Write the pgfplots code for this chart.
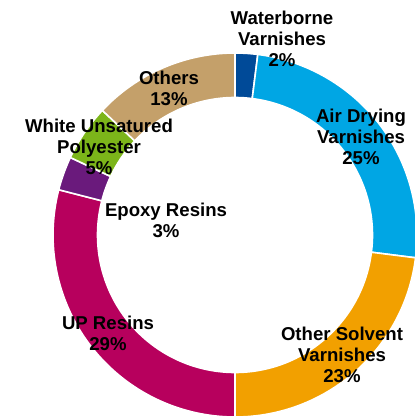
\documentclass[border=0pt]{standalone}
\usepackage{pgfplots}
\pgfplotsset{compat=1.18}
\usepackage{pgfplotstable}
\usepackage{fontspec}
\setmainfont{Liberation Sans}
\definecolor{cWater}{RGB}{0,74,152}
\definecolor{cAir}{RGB}{0,166,228}
\definecolor{cOther}{RGB}{242,160,0}
\definecolor{cUP}{RGB}{183,0,93}
\definecolor{cEpoxy}{RGB}{106,26,124}
\definecolor{cWhite}{RGB}{124,181,26}
\definecolor{cOthers}{RGB}{196,160,106}
\newcommand\lbl{\fontsize{9.3bp}{10.5bp}\selectfont\bfseries}
\pgfplotstableread{
value color
2 cWater
25 cAir
23 cOther
29 cUP
3 cEpoxy
5 cWhite
13 cOthers
}\donutdata
\begin{document}
\begin{tikzpicture}
\begin{axis}[hide axis, scale only axis, width=207.5bp, height=208.5bp,
  xmin=0, xmax=415, ymin=0, ymax=417, clip=true]
\pgfplotsextra{
  \pgfplotstablegetrowsof{\donutdata}
  \pgfmathtruncatemacro{\lastrow}{\pgfplotsretval-1}
  \gdef\cumval{0}
  \begin{scope}[shift={(axis cs:235,182)}]
  \foreach \i in {0,...,\lastrow}{
    \pgfplotstablegetelem{\i}{value}\of{\donutdata}\let\segval\pgfplotsretval
    \pgfplotstablegetelem{\i}{color}\of{\donutdata}\let\segcol\pgfplotsretval
    \pgfmathsetmacro{\aS}{90-3.6*\cumval}
    \pgfmathsetmacro{\aE}{90-3.6*(\cumval+\segval)}
    \filldraw[fill=\segcol, draw=white, line width=0.8bp]
      (\aS:91bp) arc[start angle=\aS, end angle=\aE, radius=91bp]
      -- (\aE:68.75bp) arc[start angle=\aE, end angle=\aS, radius=68.75bp] -- cycle;
    \pgfmathsetmacro{\newcum}{\cumval+\segval}
    \global\let\cumval\newcum
  }
  \end{scope}
}
\node[align=center, font=\lbl, inner sep=0pt] at (axis cs:282,378) {Waterborne\\Varnishes\\2\%};
\node[align=center, font=\lbl, inner sep=0pt] at (axis cs:361,280) {Air Drying\\Varnishes\\25\%};
\node[align=center, font=\lbl, inner sep=0pt] at (axis cs:342,62) {Other Solvent\\Varnishes\\23\%};
\node[align=center, font=\lbl, inner sep=0pt] at (axis cs:108,84) {UP Resins\\29\%};
\node[align=center, font=\lbl, inner sep=0pt] at (axis cs:166,197) {Epoxy Resins\\3\%};
\node[align=center, font=\lbl, inner sep=0pt] at (axis cs:99,270) {White Unsatured\\Polyester\\5\%};
\node[align=center, font=\lbl, inner sep=0pt] at (axis cs:169,329) {Others\\13\%};
\end{axis}
\pgfresetboundingbox
\path (current axis.south west) rectangle (current axis.north east);
\end{tikzpicture}
\end{document}
